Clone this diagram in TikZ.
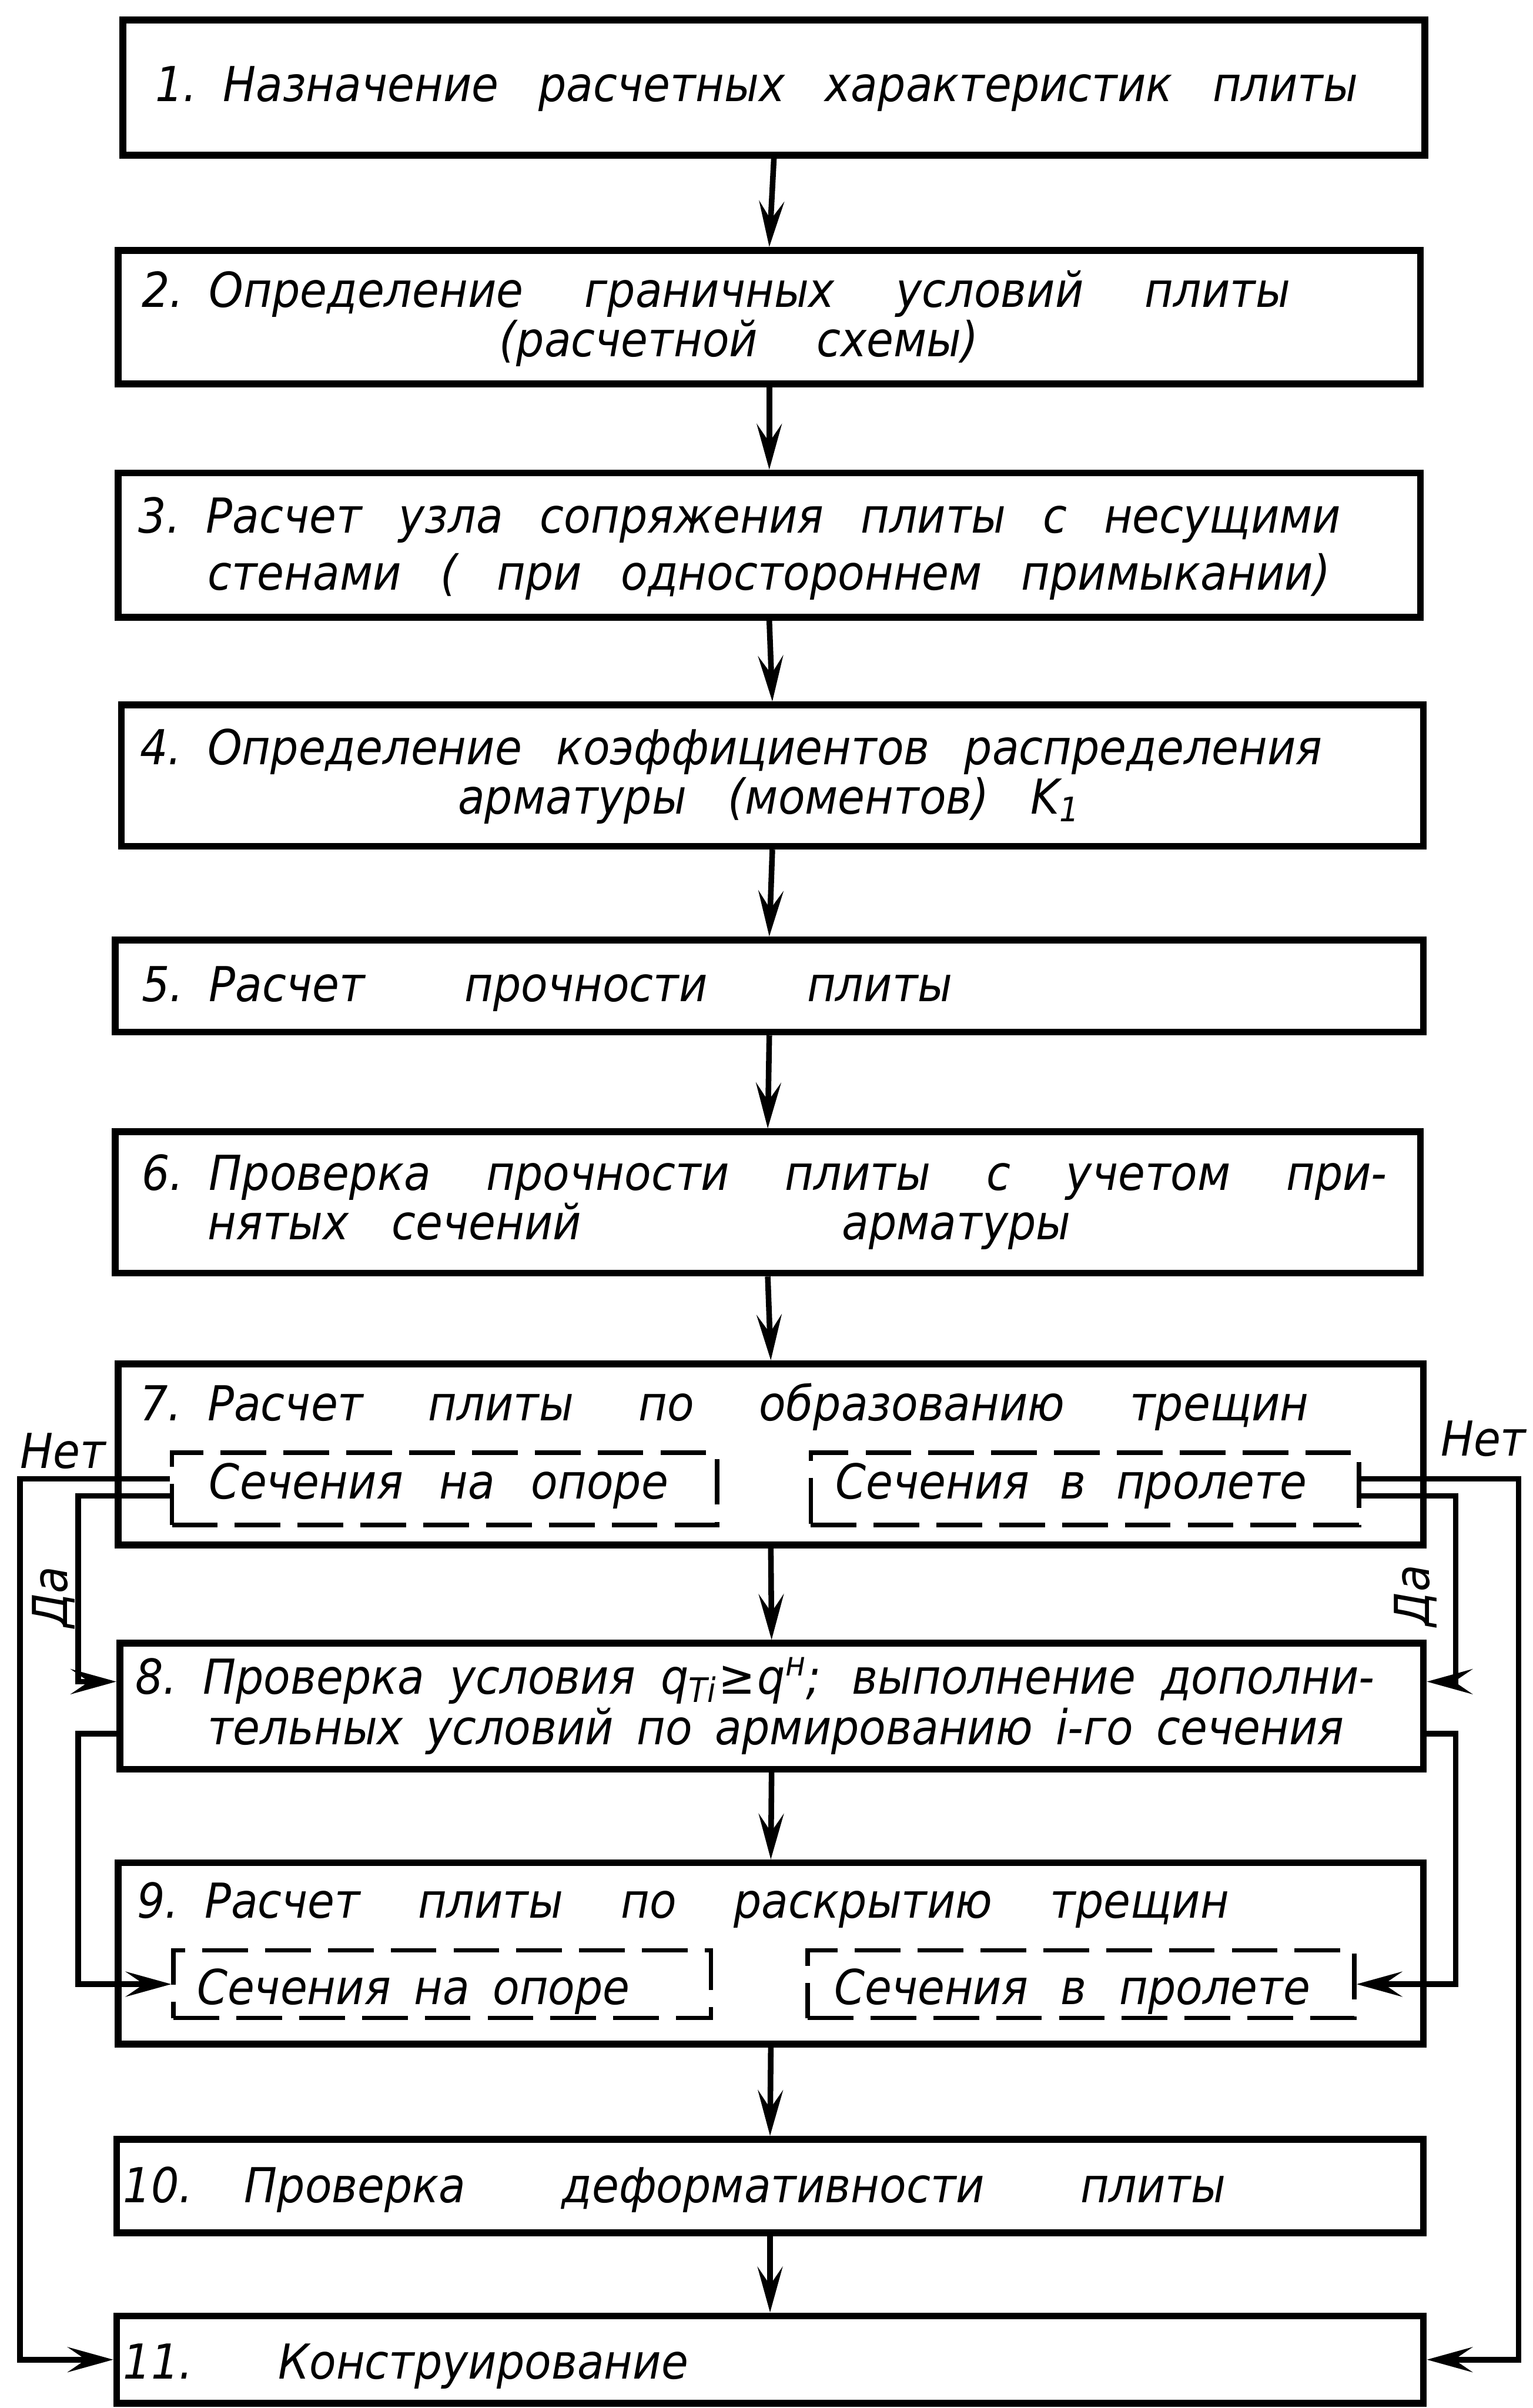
\documentclass[tikz,border=0pt]{standalone}
\usepackage{fontspec}
\newfontfamily\gost{DejaVu Sans}[FakeStretch=0.91]
\usetikzlibrary{arrows.meta,fit}
\newlength{\dpx}
\setlength{\dpx}{0.02688cm}
% one text line, spread to a given width (in picture units)
\newcommand{\fillto}[2]{\makebox[#1\dpx][s]{#2}}
% fixed gap after an item number
\newcommand{\numsep}{\kern0.45cm}

\tikzset{
  box/.style={draw, line width=3.4pt, inner sep=0pt},
  secbox/.style={draw, line width=2.2pt, dash pattern=on 0.8cm off 0.3cm, inner sep=0pt},
  lbl/.style={anchor=base west, inner sep=0pt, font=\gost\itshape\fontsize{24}{28}\selectfont},
  arr/.style={line width=2.8pt, -{Stealth[length=8mm,width=4.4mm,inset=3.2mm]}},
}

\begin{document}
\begin{tikzpicture}[x=0.02688cm, y=-0.02688cm]
    \useasboundingbox (0,0) rectangle (998,1568);
    \fill[white] (0,0) rectangle (998,1568);

    % frames
    \node[box, fit={(80,13) (928,101)}] (b1) {};
    \node[box, fit={(77,163) (925,250)}] (b2) {};
    \node[box, fit={(77,308) (925,402)}] (b3) {};
    \node[box, fit={(79,459) (927,551)}] (b4) {};
    \node[box, fit={(75,612) (927,672)}] (b5) {};
    \node[box, fit={(75,737) (925,829)}] (b6) {};
    \node[box, fit={(77,888) (927,1006)}] (b7) {};
    \node[box, fit={(78,1070) (927,1152)}] (b8) {};
    \node[box, fit={(77,1213) (927,1331)}] (b9) {};
    \node[box, fit={(76,1393) (927,1454)}] (b10) {};
    \node[box, fit={(76,1508) (927,1565)}] (b11) {};

    \node[secbox, fit={(112,946) (467,993)}] (s7l) {};
    \node[secbox, fit={(528,946) (885,993)}] (s7r) {};
    \node[secbox, fit={(113,1270) (463,1314)}] (s9l) {};
    \node[secbox, fit={(526,1270) (882,1314)}] (s9r) {};

    % texts
    \node[lbl] (t1) at (101,66) {\fillto{783}{1.\numsep Назначение расчетных характеристик плиты}};
    \node[lbl] (t2a) at (92,200) {\fillto{748}{2.\numsep Определение граничных условий плиты}};
    \node[lbl] (t2b) at (325,232) {\fillto{312}{(расчетной схемы)}};
    \node[lbl] (t3a) at (90,347) {\fillto{783}{3.\numsep Расчет узла сопряжения плиты с несущими}};
    \node[lbl] (t3b) at (135,384) {\fillto{731}{стенами ( при одностороннем примыкании)}};
    \node[lbl] (t4a) at (91,498) {\fillto{770}{4.\numsep Определение коэффициентов распределения}};
    \node[lbl] (t4b) at (298,530) {\fillto{405}{арматуры (моментов) K\textsubscript{1}}};
    \node[lbl] (t5) at (92,652) {\fillto{528}{5.\numsep Расчет прочности плиты}};
    \node[lbl] (t6a) at (92,775) {\fillto{811}{6.\numsep Проверка прочности плиты с учетом при-}};
    \node[lbl] (t6b) at (135,807) {\fillto{562}{нятых\hspace{0.75cm}сечений\hfill арматуры}};
    \node[lbl] (t7) at (91,925) {\fillto{761}{7.\numsep Расчет плиты по образованию трещин}};
    \node[lbl] (t7l) at (136,976) {\fillto{299}{Сечения на опоре}};
    \node[lbl] (t7r) at (544,976) {\fillto{307}{Сечения в пролете}};
    \node[lbl] (t8a) at (88,1103) {\fillto{807}{8.\numsep Проверка условия q\textsubscript{Ti}\kern1pt≥\kern1pt q\textsuperscript{н}; выполнение дополни-}};
    \node[lbl] (t8b) at (135,1136) {\fillto{740}{тельных условий по армированию i-го сечения}};
    \node[lbl] (t9) at (89,1249) {\fillto{711}{9.\numsep Расчет плиты по раскрытию трещин}};
    \node[lbl] (t9l) at (128,1305) {\fillto{282}{Сечения на опоре}};
    \node[lbl] (t9r) at (543,1305) {\fillto{310}{Сечения в пролете}};
    \node[lbl] (t10) at (80,1434) {\fillto{718}{10.\kern0.9cm Проверка деформативности плиты}};
    \node[lbl] (t11) at (80,1549) {\fillto{368}{11. Конструирование}};

    \node[lbl] (netl) at (13,956) {Нет};
    \node[lbl] (netr) at (938,948) {Нет};
    \node[lbl, anchor=center, rotate=90] (dal) at (35,1040) {Да};
    \node[lbl, anchor=center, rotate=90] (dar) at (922,1039) {Да};

    % main chain
    \foreach \a/\b in {b1/b2,b2/b3,b3/b4,b4/b5,b5/b6,b6/b7,b7/b8,b8/b9,b9/b10,b10/b11}
        \draw[arr] (\a.south) -- (\b.north);

    % side loops
    \coordinate (nl) at (13,963);
    \coordinate (nr) at (989,963);
    \coordinate (dl) at (51,974);
    \coordinate (dr) at (948,974);
    \coordinate (dl2) at (51,1095);
    \coordinate (dr2) at (948,1095);
    \coordinate (ql) at (51,1129);
    \coordinate (qr) at (948,1129);

    \draw[arr] (s7l.west |- nl) -- (nl) |- (b11.west);
    \draw[arr] (s7r.east |- nr) -- (nr) |- (b11.east);
    \draw[arr] (s7l.west |- dl) -- (dl) -- (dl2) -- (b8.west |- dl2);
    \draw[arr] (s7r.east |- dr) -- (dr) -- (dr2) -- (b8.east |- dr2);
    \draw[arr] (b8.west |- ql) -- (ql) |- (s9l.west);
    \draw[arr] (b8.east |- qr) -- (qr) |- (s9r.east);
\end{tikzpicture}
\end{document}
